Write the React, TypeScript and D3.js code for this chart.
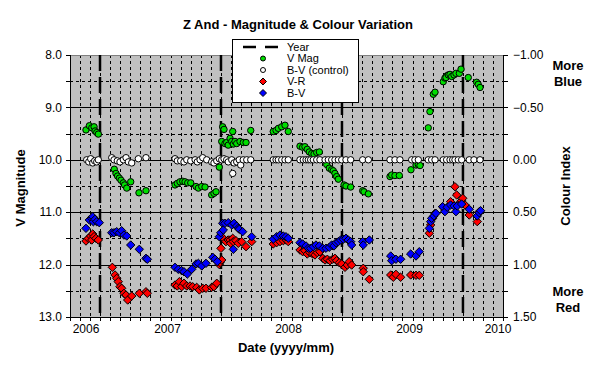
import React, { useEffect, useRef } from 'react';
import * as d3 from 'd3';

// observations as [decimal year, value]
const vMag: [number, number][] = [
  [2006.326, 9.43], [2006.354, 9.35], [2006.374, 9.39], [2006.393, 9.37], [2006.401, 9.45], [2006.415, 9.48], [2006.428, 9.51],
  [2006.560, 10.18], [2006.574, 10.26], [2006.587, 10.31], [2006.602, 10.35], [2006.616, 10.39], [2006.635, 10.44], [2006.645, 10.48],
  [2006.663, 10.54], [2006.696, 10.42], [2006.764, 10.63], [2006.822, 10.59],
  [2007.062, 10.48], [2007.081, 10.45], [2007.103, 10.42], [2007.126, 10.41], [2007.145, 10.42], [2007.167, 10.44], [2007.192, 10.44],
  [2007.236, 10.51], [2007.255, 10.54], [2007.283, 10.51], [2007.310, 10.52], [2007.365, 10.67], [2007.384, 10.64], [2007.401, 10.61],
  [2007.428, 10.14],
  [2007.448, 9.65], [2007.456, 9.37], [2007.467, 9.42], [2007.475, 9.69], [2007.489, 9.67], [2007.502, 9.72], [2007.517, 9.59],
  [2007.531, 9.65], [2007.539, 9.46], [2007.544, 9.70], [2007.558, 9.65], [2007.572, 9.69], [2007.599, 9.65], [2007.626, 9.67],
  [2007.649, 9.67], [2007.688, 9.44], [2007.874, 9.46], [2007.897, 9.44], [2007.916, 9.40], [2007.944, 9.37], [2007.971, 9.34],
  [2007.998, 9.46],
  [2008.095, 9.74], [2008.117, 9.76], [2008.136, 9.75], [2008.155, 9.80], [2008.172, 9.85], [2008.192, 9.88], [2008.211, 9.89],
  [2008.233, 9.86], [2008.255, 9.85], [2008.316, 10.09], [2008.337, 10.16], [2008.357, 10.19], [2008.370, 10.21], [2008.384, 10.26],
  [2008.398, 10.32], [2008.412, 10.37], [2008.459, 10.48], [2008.475, 10.50], [2008.514, 10.52], [2008.613, 10.59], [2008.624, 10.61],
  [2008.660, 10.65],
  [2008.839, 10.32], [2008.853, 10.29], [2008.880, 10.30], [2008.916, 10.30], [2009.012, 10.19], [2009.054, 10.10], [2009.073, 10.09],
  [2009.087, 10.11], [2009.155, 9.39], [2009.169, 9.08], [2009.197, 8.75], [2009.211, 8.71], [2009.279, 8.51], [2009.293, 8.44],
  [2009.307, 8.40], [2009.302, 8.43], [2009.321, 8.38], [2009.335, 8.37], [2009.349, 8.41], [2009.368, 8.38], [2009.384, 8.35],
  [2009.412, 8.35], [2009.426, 8.27], [2009.486, 8.43], [2009.555, 8.52], [2009.568, 8.56], [2009.583, 8.62],
];

const bvControl: [number, number][] = [
  [2006.332, 0.0], [2006.349, 0.02], [2006.365, -0.01], [2006.382, 0.03], [2006.398, 0.01], [2006.415, 0.02], [2006.428, 0.0],
  [2006.539, -0.02], [2006.558, 0.0], [2006.585, 0.01], [2006.607, 0.02], [2006.635, 0.0], [2006.657, -0.02], [2006.676, 0.02],
  [2006.704, 0.03], [2006.759, -0.01], [2006.822, -0.02],
  [2007.062, -0.01], [2007.081, 0.01], [2007.109, 0.01], [2007.136, 0.02], [2007.159, 0.0], [2007.192, 0.01], [2007.228, 0.0],
  [2007.246, 0.02], [2007.269, 0.0], [2007.291, -0.02], [2007.324, 0.0], [2007.365, 0.02], [2007.384, 0.03], [2007.407, 0.01],
  [2007.428, -0.01],
  [2007.448, 0.0], [2007.467, -0.01], [2007.489, 0.0], [2007.502, 0.02], [2007.531, 0.0], [2007.550, 0.03], [2007.572, 0.02],
  [2007.593, 0.0], [2007.605, 0.05], [2007.626, 0.0], [2007.655, 0.0], [2007.688, 0.0], [2007.539, 0.13],
  [2007.874, 0.0], [2007.897, 0.0], [2007.916, 0.0], [2007.944, 0.0], [2007.971, 0.0], [2007.998, 0.0],
  [2008.095, 0.0], [2008.122, 0.0], [2008.145, 0.0], [2008.164, 0.0], [2008.183, 0.0], [2008.205, 0.0], [2008.233, 0.0],
  [2008.260, 0.0], [2008.302, 0.0], [2008.329, 0.0], [2008.357, 0.0], [2008.384, 0.0], [2008.412, 0.0], [2008.440, 0.0],
  [2008.475, 0.0], [2008.514, 0.0], [2008.613, 0.0], [2008.660, 0.0],
  [2008.839, 0.0], [2008.880, 0.0], [2008.921, 0.0], [2009.018, 0.0], [2009.045, 0.0], [2009.073, 0.0], [2009.155, 0.0],
  [2009.183, 0.0], [2009.211, 0.0], [2009.279, 0.0], [2009.307, 0.0], [2009.335, 0.0], [2009.357, 0.0], [2009.376, 0.0],
  [2009.403, 0.0], [2009.431, 0.0], [2009.494, 0.0], [2009.533, 0.0], [2009.583, 0.0],
];

const vMinusR: [number, number][] = [
  [2006.326, 0.775], [2006.345, 0.75], [2006.365, 0.727], [2006.374, 0.765], [2006.382, 0.708], [2006.393, 0.733], [2006.409, 0.75],
  [2006.428, 0.765],
  [2006.544, 1.026], [2006.566, 1.099], [2006.580, 1.131], [2006.593, 1.163], [2006.607, 1.211], [2006.621, 1.226], [2006.640, 1.274],
  [2006.657, 1.29], [2006.671, 1.338], [2006.704, 1.30], [2006.767, 1.274], [2006.822, 1.259], [2006.833, 1.274],
  [2007.062, 1.195], [2007.081, 1.204], [2007.098, 1.163], [2007.117, 1.211], [2007.136, 1.178], [2007.159, 1.204], [2007.186, 1.204],
  [2007.208, 1.211], [2007.241, 1.217], [2007.263, 1.242], [2007.291, 1.226], [2007.318, 1.226], [2007.365, 1.217], [2007.384, 1.211],
  [2007.407, 1.178],
  [2007.428, 1.0], [2007.434, 0.98], [2007.442, 0.845], [2007.448, 0.956],
  [2007.461, 0.749], [2007.483, 0.781], [2007.502, 0.765], [2007.517, 0.765], [2007.522, 0.797], [2007.539, 0.749], [2007.544, 0.781],
  [2007.566, 0.772], [2007.585, 0.797], [2007.613, 0.781], [2007.649, 0.829], [2007.696, 0.781],
  [2007.874, 0.803], [2007.902, 0.791], [2007.930, 0.781], [2007.957, 0.772], [2007.979, 0.765], [2007.998, 0.781],
  [2008.095, 0.861], [2008.117, 0.877], [2008.136, 0.867], [2008.155, 0.899], [2008.178, 0.886], [2008.200, 0.899], [2008.219, 0.908],
  [2008.238, 0.886], [2008.260, 0.877], [2008.283, 0.94], [2008.302, 0.956], [2008.321, 0.949], [2008.343, 0.963], [2008.365, 0.949],
  [2008.384, 0.94], [2008.398, 0.963], [2008.420, 0.982], [2008.440, 0.994], [2008.467, 1.026], [2008.486, 1.004], [2008.502, 0.972],
  [2008.522, 1.004], [2008.618, 1.035], [2008.618, 1.068], [2008.668, 1.14],
  [2008.845, 1.099], [2008.866, 1.121], [2008.888, 1.093], [2008.927, 1.121], [2009.010, 1.099], [2009.054, 1.102], [2009.081, 1.102],
  [2009.164, 0.701], [2009.175, 0.622], [2009.192, 0.558], [2009.211, 0.511], [2009.274, 0.448], [2009.293, 0.479], [2009.340, 0.40],
  [2009.376, 0.257], [2009.390, 0.336], [2009.412, 0.415], [2009.431, 0.39], [2009.440, 0.367], [2009.459, 0.431], [2009.494, 0.527],
  [2009.560, 0.59], [2009.577, 0.495],
];

const bMinusV: [number, number][] = [
  [2006.326, 0.654], [2006.354, 0.574], [2006.374, 0.558], [2006.382, 0.543], [2006.387, 0.591], [2006.401, 0.568], [2006.415, 0.591],
  [2006.436, 0.60],
  [2006.539, 0.696], [2006.558, 0.696], [2006.580, 0.686], [2006.602, 0.696], [2006.621, 0.677], [2006.640, 0.718], [2006.663, 0.727],
  [2006.696, 0.813], [2006.767, 0.854], [2006.822, 0.94], [2006.833, 0.949],
  [2007.062, 1.026], [2007.089, 1.045], [2007.117, 1.058], [2007.136, 1.068], [2007.164, 1.09], [2007.200, 1.045], [2007.236, 0.994],
  [2007.255, 0.988], [2007.283, 1.013], [2007.318, 0.988], [2007.374, 0.93], [2007.393, 0.949], [2007.412, 0.972],
  [2007.428, 0.734], [2007.440, 0.696], [2007.456, 0.606], [2007.461, 0.67], [2007.475, 0.606], [2007.502, 0.60], [2007.531, 0.622],
  [2007.544, 0.854], [2007.550, 0.606], [2007.572, 0.632], [2007.585, 0.654], [2007.593, 0.663], [2007.621, 0.686], [2007.696, 0.734],
  [2007.874, 0.758], [2007.902, 0.734], [2007.930, 0.718], [2007.957, 0.727], [2007.979, 0.734], [2007.998, 0.749],
  [2008.095, 0.791], [2008.117, 0.803], [2008.145, 0.822], [2008.164, 0.844], [2008.183, 0.844], [2008.205, 0.829], [2008.227, 0.813],
  [2008.255, 0.822], [2008.283, 0.844], [2008.310, 0.844], [2008.337, 0.835], [2008.357, 0.813], [2008.376, 0.822], [2008.393, 0.791],
  [2008.412, 0.781], [2008.431, 0.765], [2008.453, 0.758], [2008.475, 0.749], [2008.494, 0.765], [2008.514, 0.781], [2008.522, 0.813],
  [2008.613, 0.781], [2008.618, 0.813], [2008.668, 0.765],
  [2008.845, 0.918], [2008.853, 0.963], [2008.888, 0.949], [2008.927, 0.949], [2009.010, 0.899], [2009.054, 0.918], [2009.081, 0.877],
  [2009.164, 0.654], [2009.175, 0.59], [2009.183, 0.558], [2009.202, 0.536], [2009.219, 0.511], [2009.274, 0.448], [2009.293, 0.495],
  [2009.312, 0.453], [2009.340, 0.431], [2009.368, 0.441], [2009.384, 0.495], [2009.395, 0.441], [2009.431, 0.422], [2009.494, 0.472],
  [2009.560, 0.536], [2009.577, 0.505], [2009.588, 0.486],
];

const yearMarkers = [2006.442, 2007.442, 2008.442, 2009.442];
const yearLabels = [2006, 2007, 2008, 2009, 2010];
const magTicks = [8, 9, 10, 11, 12, 13];
const colourTicks = [-1, -0.5, 0, 0.5, 1, 1.5];
const legendItems = ['Year', 'V Mag', 'B-V (control)', 'V-R', 'B-V'];

const FONT = 'Liberation Sans, Arial, sans-serif';

const diamond = (r: number) => `M0,${-r}L${r},0L0,${r}L${-r},0Z`;

export default function App() {
  const svgRef = useRef<SVGSVGElement>(null);

  useEffect(() => {
    if (!svgRef.current) return;
    const width = 596;
    const height = 367;
    const plot = { left: 70, right: 503, top: 55, bottom: 317 };

    d3.select(svgRef.current).selectAll('*').remove();
    const svg = d3.select(svgRef.current).attr('width', width).attr('height', height);

    const x = d3.scaleLinear().domain([2006.194, 2009.773]).range([plot.left, plot.right]);
    const yMag = d3.scaleLinear().domain([8, 13]).range([plot.top, plot.bottom]);
    const yCol = d3.scaleLinear().domain([-1, 1.5]).range([plot.top, plot.bottom]);

    svg.append('rect').attr('width', width).attr('height', height).attr('fill', '#fff');

    svg.append('rect')
      .attr('x', plot.left).attr('y', plot.top)
      .attr('width', plot.right - plot.left).attr('height', plot.bottom - plot.top)
      .attr('fill', '#c0c0c0');

    const grid = svg.append('g').attr('shape-rendering', 'crispEdges');

    // monthly grid lines, counted from the first year marker
    const months: number[] = [];
    for (let k = -40; k < 60; k++) {
      const t = yearMarkers[0] + k / 12;
      if (x(t) > plot.left + 2 && x(t) < plot.right - 2) months.push(t);
    }
    grid.selectAll('.vgrid').data(months).enter().append('line')
      .attr('x1', d => Math.round(x(d)) + 0.5).attr('x2', d => Math.round(x(d)) + 0.5)
      .attr('y1', plot.top).attr('y2', plot.bottom)
      .attr('stroke', '#000').attr('stroke-dasharray', '3,3');

    const halfMags = d3.range(8.5, 13, 0.5);
    grid.selectAll('.hgrid').data(halfMags).enter().append('line')
      .attr('x1', plot.left).attr('x2', plot.right)
      .attr('y1', d => Math.round(yMag(d)) + 0.5).attr('y2', d => Math.round(yMag(d)) + 0.5)
      .attr('stroke', '#000')
      .attr('stroke-dasharray', d => (d % 1 === 0 ? null : '3,3'));

    // top border
    grid.append('line')
      .attr('x1', plot.left).attr('x2', plot.right)
      .attr('y1', plot.top + 0.5).attr('y2', plot.top + 0.5)
      .attr('stroke', '#808080');

    // year marker lines
    svg.selectAll('.year').data(yearMarkers).enter().append('line')
      .attr('x1', d => x(d)).attr('x2', d => x(d))
      .attr('y1', plot.top).attr('y2', plot.bottom)
      .attr('stroke', '#000').attr('stroke-width', 2.5).attr('stroke-dasharray', '16,6');

    // axes
    const axes = svg.append('g').attr('shape-rendering', 'crispEdges').attr('stroke', '#000');
    axes.append('line').attr('x1', plot.left + 0.5).attr('x2', plot.left + 0.5)
      .attr('y1', plot.top).attr('y2', plot.bottom + 4);
    axes.append('line').attr('x1', plot.right + 0.5).attr('x2', plot.right + 0.5)
      .attr('y1', plot.top).attr('y2', plot.bottom + 4);
    axes.append('line').attr('x1', plot.left).attr('x2', plot.right + 1)
      .attr('y1', plot.bottom + 0.5).attr('y2', plot.bottom + 0.5);

    axes.selectAll('.ltick').data(d3.range(8, 13.01, 0.5)).enter().append('line')
      .attr('x1', plot.left - 4).attr('x2', plot.left)
      .attr('y1', d => Math.round(yMag(d)) + 0.5).attr('y2', d => Math.round(yMag(d)) + 0.5);
    axes.selectAll('.rtick').data(d3.range(-1, 1.51, 0.25)).enter().append('line')
      .attr('x1', plot.right).attr('x2', plot.right + 5)
      .attr('y1', d => Math.round(yCol(d)) + 0.5).attr('y2', d => Math.round(yCol(d)) + 0.5);
    axes.selectAll('.btick').data(months).enter().append('line')
      .attr('x1', d => Math.round(x(d)) + 0.5).attr('x2', d => Math.round(x(d)) + 0.5)
      .attr('y1', plot.bottom).attr('y2', plot.bottom + 4);

    const txt = svg.append('g').attr('font-family', FONT).attr('fill', '#000');

    txt.selectAll('.ml').data(magTicks).enter().append('text')
      .attr('x', 62).attr('y', d => yMag(d)).attr('dy', '0.35em')
      .attr('text-anchor', 'end').attr('font-size', 12)
      .text(d => d3.format('.1f')(d));

    txt.selectAll('.cl').data(colourTicks).enter().append('text')
      .attr('x', 513).attr('y', d => yCol(d)).attr('dy', '0.35em')
      .attr('font-size', 12)
      .text(d => d3.format('.2f')(d));

    txt.selectAll('.xl').data(yearLabels).enter().append('text')
      .attr('x', d => Math.max(86, Math.min(498, x(d))))
      .attr('y', 333).attr('text-anchor', 'middle').attr('font-size', 12)
      .text(d => String(d));

    txt.append('text').attr('x', 298).attr('y', 29).attr('text-anchor', 'middle')
      .attr('font-size', 13).attr('font-weight', 'bold')
      .text('Z And - Magnitude & Colour Variation');

    txt.append('text').attr('x', 286).attr('y', 352).attr('text-anchor', 'middle')
      .attr('font-size', 13).attr('font-weight', 'bold')
      .text('Date (yyyy/mm)');

    txt.append('text').attr('transform', 'translate(25,188) rotate(-90)')
      .attr('text-anchor', 'middle').attr('font-size', 13).attr('font-weight', 'bold')
      .text('V Magnitude');

    txt.append('text').attr('transform', 'translate(570,186) rotate(-90)')
      .attr('text-anchor', 'middle').attr('font-size', 13).attr('font-weight', 'bold')
      .text('Colour Index');

    const side = [
      { lines: ['More', 'Blue'], y: 70 },
      { lines: ['More', 'Red'], y: 296 },
    ];
    side.forEach(s => {
      s.lines.forEach((l, i) => {
        txt.append('text').attr('x', 568).attr('y', s.y + i * 16)
          .attr('text-anchor', 'middle').attr('font-size', 13).attr('font-weight', 'bold')
          .text(l);
      });
    });

    // series
    const marks = svg.append('g').attr('stroke', '#000').attr('stroke-width', 1);
    marks.selectAll('.vmag').data(vMag).enter().append('circle')
      .attr('cx', d => x(d[0])).attr('cy', d => yMag(d[1])).attr('r', 3.2)
      .attr('fill', '#00dd00');
    marks.selectAll('.ctrl').data(bvControl).enter().append('circle')
      .attr('cx', d => x(d[0])).attr('cy', d => yCol(d[1])).attr('r', 3.2)
      .attr('fill', '#fff');
    marks.selectAll('.vr').data(vMinusR).enter().append('path')
      .attr('transform', d => `translate(${x(d[0])},${yCol(d[1])})`)
      .attr('d', diamond(4.2)).attr('fill', '#ff0000');
    marks.selectAll('.bv').data(bMinusV).enter().append('path')
      .attr('transform', d => `translate(${x(d[0])},${yCol(d[1])})`)
      .attr('d', diamond(4.2)).attr('fill', '#0000ff');

    // legend
    const lg = svg.append('g');
    lg.append('rect').attr('x', 232.5).attr('y', 39.5).attr('width', 126).attr('height', 63)
      .attr('fill', '#fff').attr('stroke', '#000');
    legendItems.forEach((name, i) => {
      const cy = 47 + i * 11.5;
      if (i === 0) {
        lg.append('line').attr('x1', 243).attr('x2', 279).attr('y1', cy).attr('y2', cy)
          .attr('stroke', '#000').attr('stroke-width', 2.5).attr('stroke-dasharray', '13,9');
      } else if (i === 1 || i === 2) {
        lg.append('circle').attr('cx', 263).attr('cy', cy).attr('r', 2.5)
          .attr('fill', i === 1 ? '#00dd00' : '#fff').attr('stroke', '#000');
      } else {
        lg.append('path').attr('transform', `translate(263,${cy})`).attr('d', diamond(3.5))
          .attr('fill', i === 3 ? '#ff0000' : '#0000ff').attr('stroke', '#000');
      }
      lg.append('text').attr('x', 287).attr('y', cy).attr('dy', '0.35em')
        .attr('font-family', FONT).attr('font-size', 11).text(name);
    });
  }, []);

  return <svg ref={svgRef} style={{ position: 'absolute', left: 0, top: 0, display: 'block' }} />;
}
